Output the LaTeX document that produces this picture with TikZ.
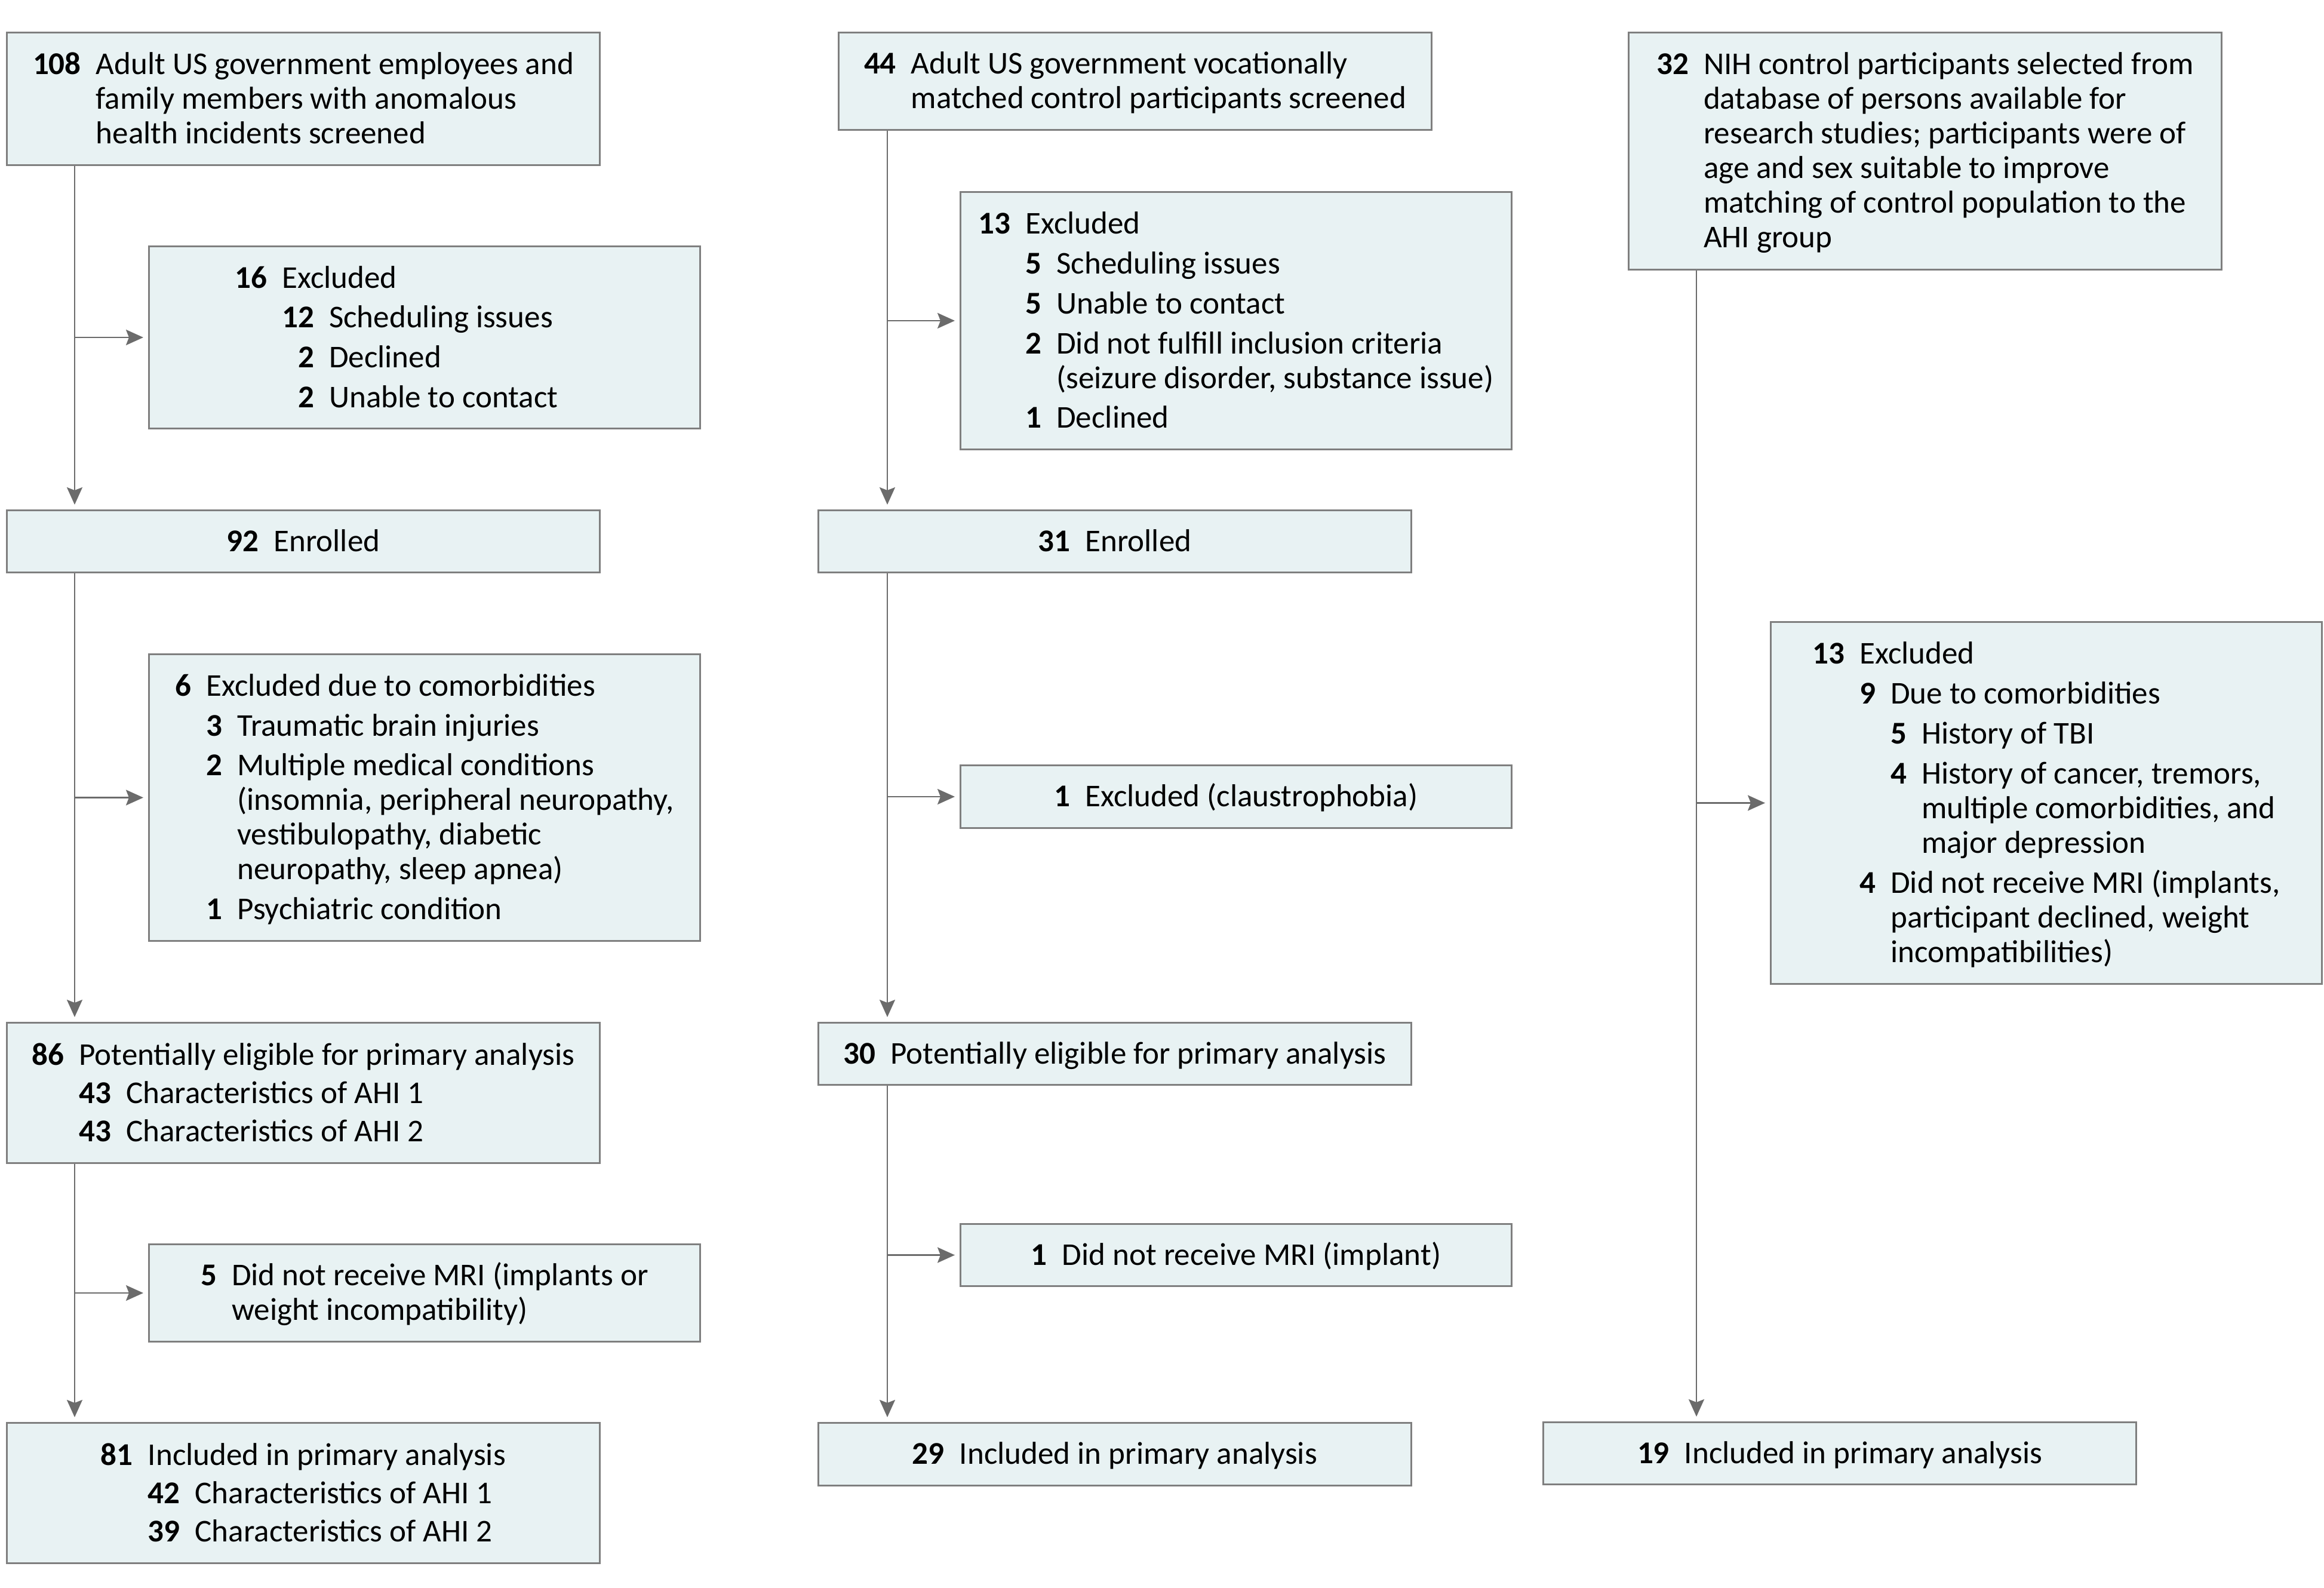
\documentclass[tikz,border=0pt]{standalone}
\usepackage{fontspec}
\setmainfont{Carlito}
\usepackage{xcolor}
\usetikzlibrary{arrows.meta}

\definecolor{boxfill}{HTML}{E8F2F3}
\definecolor{boxline}{HTML}{7F7F7F}
\definecolor{linegray}{HTML}{6B6B6B}

% number in bold, right aligned in the width of #1
\newcommand{\nm}[2]{\rule[-0.15em]{0pt}{0.95em}\setbox0\hbox{\bfseries #1}%
  \hbox to \wd0{\hfill\bfseries #2}\hspace{2.5mm}}
% hang past a number column as wide as #1
\newcommand{\hg}[1]{\rule[-0.15em]{0pt}{0.95em}\setbox0\hbox{\bfseries #1}%
  \hspace*{\dimexpr\wd0+2.5mm\relax}}

\begin{document}
\begin{tikzpicture}[->,>={Stealth[length=2.9mm,width=2.6mm,inset=0.5mm]},
      shorten >=0.8mm,
      every edge/.style={draw=linegray, line width=0.25mm},
      main/.style={rectangle, draw=boxline, fill=boxfill, line width=0.3mm,
        anchor=north west, inner sep=0pt, minimum width=9.93cm, align=left,
        font=\fontsize{15.1pt}{16.5pt}\selectfont},
      side/.style={main, minimum width=9.23cm}]
    \useasboundingbox (0,0) rectangle (38.92,-26.58);

    % screened
    \node[main, minimum height=2.22cm] (s1) at (0.10,-0.53)
      {\nm{108}{108}Adult US government employees and\\
       \hg{108}family members with anomalous\\
       \hg{108}health incidents screened};
    \node[main, minimum height=1.63cm] (s2) at (14.03,-0.53)
      {\nm{44}{44}Adult US government vocationally\\
       \hg{44}matched control participants screened};
    \node[main, minimum height=3.97cm] (s3) at (27.26,-0.53)
      {\nm{32}{32}NIH control participants selected from\\
       \hg{32}database of persons available for\\
       \hg{32}research studies; participants were of\\
       \hg{32}age and sex suitable to improve\\
       \hg{32}matching of control population to the\\
       \hg{32}AHI group};

    % first exclusions
    \node[side, minimum height=3.05cm, text width=6.35cm, inner xsep=1.44cm,
          align=flush left] (x1) at (2.48,-4.11)
      {\nm{16}{16}Excluded\\[2.5pt]
       \hg{16}\nm{12}{12}Scheduling issues\\[2.5pt]
       \hg{16}\nm{12}{2}Declined\\[2.5pt]
       \hg{16}\nm{12}{2}Unable to contact};
    \node[side, minimum height=4.31cm] (x4) at (16.07,-3.20)
      {\nm{13}{13}Excluded\\[2.5pt]
       \hg{13}\nm{5}{5}Scheduling issues\\[2.5pt]
       \hg{13}\nm{5}{5}Unable to contact\\[2.5pt]
       \hg{13}\nm{2}{2}Did not fulfill inclusion criteria\\
       \hg{13}\hg{2}(seizure disorder, substance issue)\\[2.5pt]
       \hg{13}\nm{1}{1}Declined};

    % enrolled
    \node[main, minimum height=1.04cm] (e1) at (0.10,-8.53) {\nm{92}{92}Enrolled};
    \node[main, minimum height=1.04cm] (e2) at (13.69,-8.53) {\nm{31}{31}Enrolled};

    % second exclusions
    \node[side, minimum height=4.80cm] (x2) at (2.48,-10.94)
      {\nm{6}{6}Excluded due to comorbidities\\[2.5pt]
       \hg{6}\nm{3}{3}Traumatic brain injuries\\[2.5pt]
       \hg{6}\nm{2}{2}Multiple medical conditions\\
       \hg{6}\hg{2}(insomnia, peripheral neuropathy,\\
       \hg{6}\hg{2}vestibulopathy, diabetic\\
       \hg{6}\hg{2}neuropathy, sleep apnea)\\[2.5pt]
       \hg{6}\nm{1}{1}Psychiatric condition};
    \node[side, minimum height=1.05cm] (x5) at (16.07,-12.80)
      {\nm{1}{1}Excluded (claustrophobia)};
    \node[side, minimum height=6.06cm] (x7) at (29.64,-10.40)
      {\nm{13}{13}Excluded\\[2.5pt]
       \hg{13}\nm{9}{9}Due to comorbidities\\[2.5pt]
       \hg{13}\hg{9}\nm{5}{5}History of TBI\\[2.5pt]
       \hg{13}\hg{9}\nm{4}{4}History of cancer, tremors,\\
       \hg{13}\hg{9}\hg{4}multiple comorbidities, and\\
       \hg{13}\hg{9}\hg{4}major depression\\[2.5pt]
       \hg{13}\nm{4}{4}Did not receive MRI (implants,\\
       \hg{13}\hg{4}participant declined, weight\\
       \hg{13}\hg{4}incompatibilities)};

    % potentially eligible
    \node[main, minimum height=2.35cm] (p1) at (0.10,-17.11)
      {\nm{86}{86}Potentially eligible for primary analysis\\[1.7pt]
       \hg{86}\nm{43}{43}Characteristics of AHI 1\\[1.7pt]
       \hg{86}\nm{43}{43}Characteristics of AHI 2};
    \node[main, minimum height=1.04cm] (p2) at (13.69,-17.11)
      {\nm{30}{30}Potentially eligible for primary analysis};

    % MRI
    \node[side, minimum height=1.63cm] (x3) at (2.48,-20.82)
      {\nm{5}{5}Did not receive MRI (implants or\\
       \hg{5}weight incompatibility)};
    \node[side, minimum height=1.04cm] (x6) at (16.07,-20.48)
      {\nm{1}{1}Did not receive MRI (implant)};

    % included
    \node[main, minimum height=2.35cm] (i1) at (0.10,-23.81)
      {\nm{81}{81}Included in primary analysis\\[1.7pt]
       \hg{81}\nm{42}{42}Characteristics of AHI 1\\[1.7pt]
       \hg{81}\nm{42}{39}Characteristics of AHI 2};
    \node[main, minimum height=1.05cm] (i2) at (13.69,-23.81)
      {\nm{29}{29}Included in primary analysis};
    \node[main, minimum height=1.04cm] (i3) at (25.83,-23.80)
      {\nm{19}{19}Included in primary analysis};

    \coordinate (c1) at (1.25,0);
    \coordinate (c2) at (14.86,0);
    \coordinate (c3) at (28.41,0);

    \path (s1.south -| c1) edge (e1.north -| c1)
          (e1.south -| c1) edge (p1.north -| c1)
          (p1.south -| c1) edge (i1.north -| c1)
          (c1 |- x1.west) edge (x1.west)
          (c1 |- x2.west) edge (x2.west)
          (c1 |- x3.west) edge (x3.west);
    \path (s2.south -| c2) edge (e2.north -| c2)
          (e2.south -| c2) edge (p2.north -| c2)
          (p2.south -| c2) edge (i2.north -| c2)
          (c2 |- x4.west) edge (x4.west)
          (c2 |- x5.west) edge (x5.west)
          (c2 |- x6.west) edge (x6.west);
    \path (s3.south -| c3) edge (i3.north -| c3)
          (c3 |- x7.west) edge (x7.west);
\end{tikzpicture}
\end{document}
